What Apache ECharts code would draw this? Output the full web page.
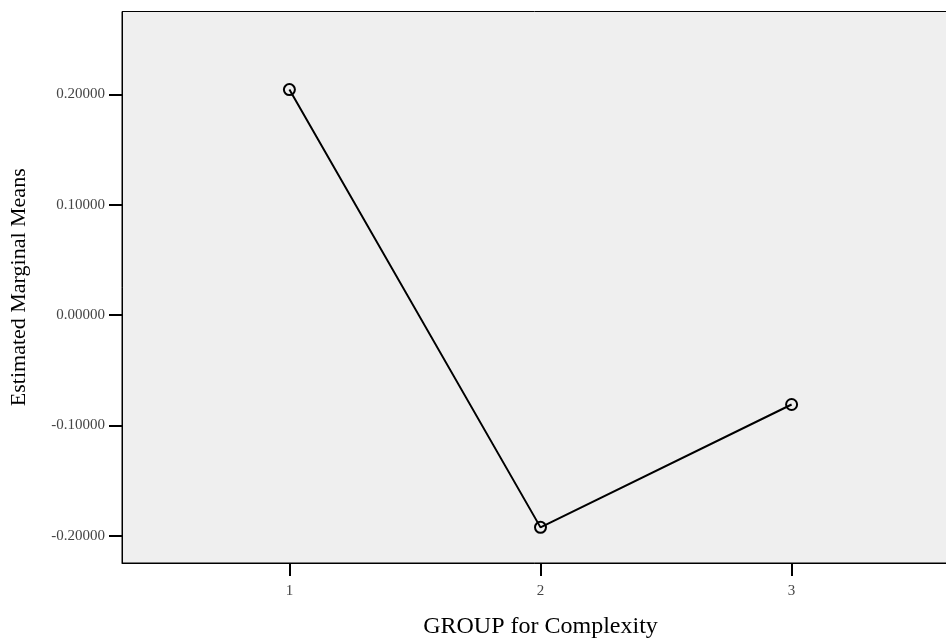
<!DOCTYPE html>
<html>
<head>
<meta charset="utf-8">
<script src="https://cdn.jsdelivr.net/npm/echarts@6/dist/echarts.min.js"></script>
<style>html,body{margin:0;padding:0;background:#fff}#c{width:946px;height:640px}</style>
</head>
<body>
<div id="c"></div>
<script>
var groups = [1, 2, 3];
var means = [0.2045, -0.1924, -0.0810];
var yTicks = [-0.2, -0.1, 0, 0.1, 0.2];
var xTicks = [1, 2, 3];

var chart = echarts.init(document.getElementById('c'), null, {renderer: 'canvas'});
var serif = '"Liberation Serif", "DejaVu Serif", serif';
chart.setOption({
  animation: false,
  backgroundColor: '#ffffff',
  grid: {left: 122, top: 11.5, bottom: 77, right: -13, show: true, containLabel: false,
         outerBoundsMode: 'none',
         backgroundColor: '#efefef', borderColor: '#000', borderWidth: 1},
  xAxis: {
    type: 'value', min: 0.3333, max: 3.6667,
    name: 'GROUP for Complexity', nameLocation: 'middle', nameGap: 52,
    nameTextStyle: {fontFamily: serif, fontSize: 24, color: '#000'},
    axisLine: {show: true, onZero: false, lineStyle: {color: '#000', width: 1}},
    axisTick: {show: true, length: 13, customValues: xTicks, lineStyle: {color: '#000', width: 2}},
    axisLabel: {customValues: xTicks, fontFamily: serif, fontSize: 15, color: '#444', margin: 21},
    splitLine: {show: false}
  },
  yAxis: {
    type: 'value', min: -0.2247, max: 0.2753,
    name: 'Estimated Marginal Means', nameLocation: 'middle', nameGap: 92, nameRotate: 90,
    nameTextStyle: {fontFamily: serif, fontSize: 22, color: '#000'},
    axisLine: {show: true, onZero: false, lineStyle: {color: '#000', width: 1}},
    axisTick: {show: true, length: 13, customValues: yTicks, lineStyle: {color: '#000', width: 2}},
    axisLabel: {customValues: yTicks, fontFamily: serif, fontSize: 15, color: '#444', margin: 17,
      formatter: function (v) { return v.toFixed(5); }},
    splitLine: {show: false}
  },
  series: [{
    type: 'line',
    data: groups.map(function (g, i) { return [g, means[i]]; }),
    symbol: 'circle', symbolSize: 11,
    lineStyle: {color: '#000', width: 2},
    itemStyle: {color: 'rgba(0,0,0,0)', borderColor: '#000', borderWidth: 2}
  }]
});
</script>
</body>
</html>
